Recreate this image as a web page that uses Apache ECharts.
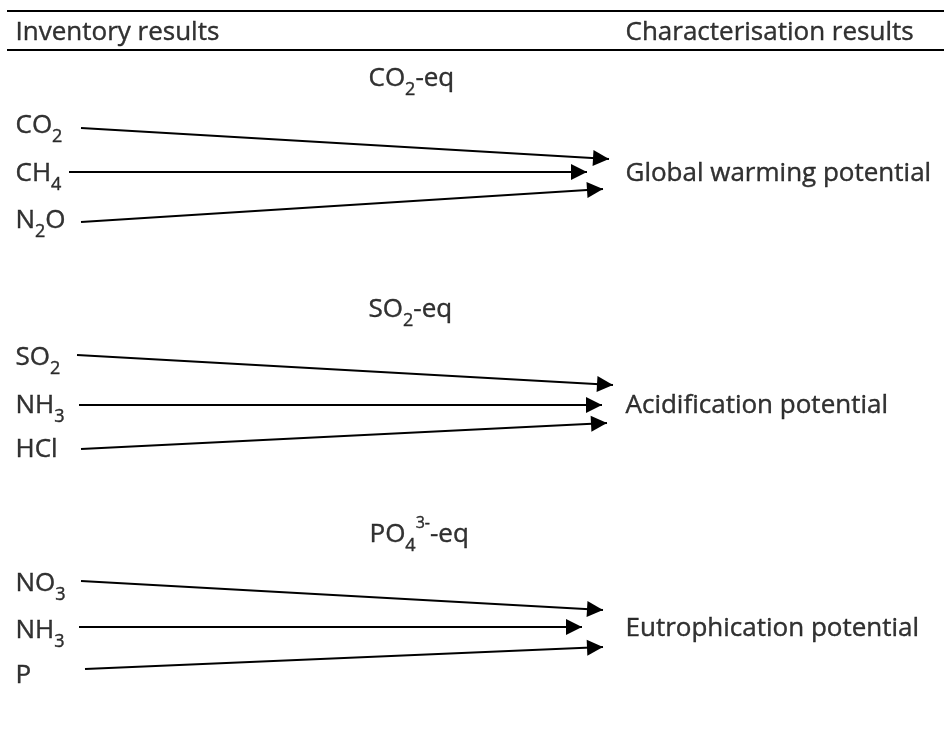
<!DOCTYPE html>
<html>
<head>
<meta charset="utf-8">
<script src="https://cdn.jsdelivr.net/npm/echarts@6/dist/echarts.min.js"></script>
<style>
html,body{margin:0;padding:0;background:#fff;}
#chart{width:944px;height:729px;}
</style>
</head>
<body>
<div id="chart"></div>
<script>
// ---- Diagram data (diagram units: x 0..944, y 0..729, y downwards) ----
const headerLabels = ['Inventory results', 'Characterisation results'];
const headerLabelX = [15, 625];
const headerLabelY = [31, 31];
const headerRuleY = [11, 50];
const headerRuleX = [7, 944];

const resultLabels = ['Global warming potential', 'Acidification potential', 'Eutrophication potential'];
const resultLabelX = [625, 625, 625];
const resultLabelY = [172, 404, 627];

const unitLabels = ['CO2-eq', 'SO2-eq', 'PO4^{3-}-eq'];
const unitLabelX = [368, 368, 369];
const unitLabelY = [77, 308, 533];

const inventoryLabels = ['CO2', 'CH4', 'N2O', 'SO2', 'NH3', 'HCl', 'NO3', 'NH3', 'P'];
const inventoryLabelX = [15, 15, 15, 15, 15, 15, 15, 15, 15];
const inventoryLabelY = [124, 172, 219, 356, 404, 448, 582, 629, 674];

// arrows: start x, start y, tip x, tip y
const flowStartX = [81, 69, 81, 77, 79, 81, 81, 79, 85];
const flowStartY = [128, 172, 222, 355, 405, 449, 581, 627, 669];
const flowEndX = [609, 587, 603, 613, 602, 607, 603, 582, 603];
const flowEndY = [159, 172, 189, 385, 405, 423, 610, 627, 647];

// ---- helpers ----
function chem(s) {
  return s.replace(/\^\{([^}]*)\}|(\d+)|([^\d^]+)/g, function (m, sup, sub, txt) {
    if (sup) return '{p|' + sup + '}';
    if (sub) return '{s|' + sub + '}';
    return '{m|' + txt + '}';
  });
}
const FONT = '"Open Sans", sans-serif';
function rich(size) {
  const base = { fontFamily: FONT, color: '#000', textBorderColor: '#000', textBorderWidth: 0.4 };
  return {
    m: Object.assign({}, base, { fontSize: size, lineHeight: 40 }),
    s: Object.assign({}, base, { fontSize: Math.round(size * 0.68), lineHeight: 24, verticalAlign: 'bottom' }),
    p: Object.assign({}, base, { fontSize: Math.round(size * 0.62), lineHeight: 16, verticalAlign: 'top' })
  };
}
function textSeries(names, xs, ys, size) {
  return {
    type: 'scatter',
    silent: true,
    symbolSize: 1,
    itemStyle: { color: 'transparent' },
    data: names.map(function (n, i) { return { value: [xs[i], ys[i]], name: n }; }),
    label: {
      show: true,
      position: 'right',
      distance: 0,
      offset: [0, 2],
      color: '#000',
      fontFamily: FONT,
      fontSize: size,
      formatter: function (p) { return chem(p.name); },
      rich: rich(size)
    }
  };
}
// filled triangular arrowhead whose tip sits at the symbol centre
const ARROW = 'path://M0,-16M32,-16M8,16L16,0L24,16Z';

const chart = echarts.init(document.getElementById('chart'), null, { renderer: 'canvas' });
chart.setOption({
  animation: false,
  backgroundColor: '#fff',
  grid: { left: 0, right: 0, top: 0, bottom: 0 },
  xAxis: { type: 'value', min: 0, max: 944, show: false },
  yAxis: { type: 'value', min: 0, max: 729, inverse: true, show: false },
  series: [
    {
      type: 'lines',
      coordinateSystem: 'cartesian2d',
      silent: true,
      symbol: ['none', 'none'],
      lineStyle: { color: '#000', width: 2, opacity: 1 },
      data: headerRuleY.map(function (y) { return { coords: [[headerRuleX[0], y], [headerRuleX[1], y]] }; })
    },
    {
      type: 'lines',
      coordinateSystem: 'cartesian2d',
      silent: true,
      symbol: ['none', ARROW],
      symbolSize: [0, 32],
      lineStyle: { color: '#000', width: 2, opacity: 1 },
      itemStyle: { color: '#000' },
      data: flowStartX.map(function (x, i) {
        return { coords: [[x, flowStartY[i]], [flowEndX[i], flowEndY[i]]] };
      })
    },
    textSeries(headerLabels, headerLabelX, headerLabelY, 26),
    textSeries(unitLabels, unitLabelX, unitLabelY, 26),
    textSeries(inventoryLabels, inventoryLabelX, inventoryLabelY, 26),
    textSeries(resultLabels, resultLabelX, resultLabelY, 26)
  ]
});
</script>
</body>
</html>
